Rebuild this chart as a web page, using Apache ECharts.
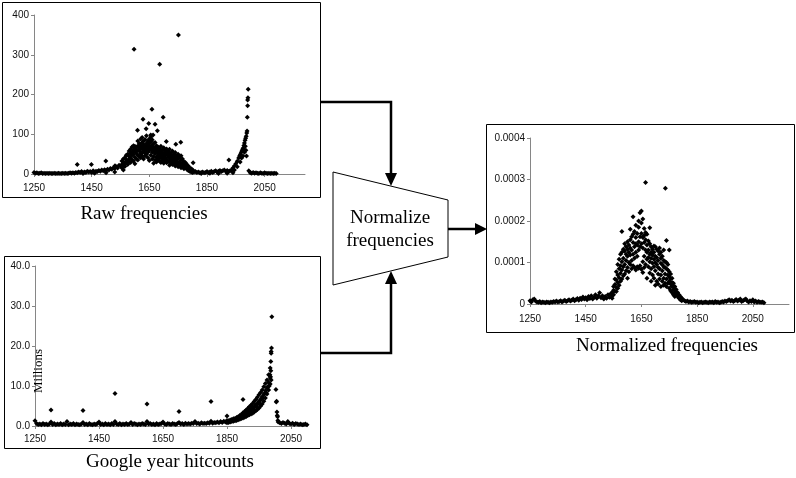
<!DOCTYPE html>
<html>
<head>
<meta charset="utf-8">
<style>
html, body { margin: 0; padding: 0; background: #fff; }
#chart { width: 796px; height: 478px; }
</style>
<script src="https://cdn.jsdelivr.net/npm/echarts@6/dist/echarts.min.js"></script>
</head>
<body>
<div id="chart"></div>
<script>
// shared x tick labels (years)
const yearTicks = [1250, 1450, 1650, 1850, 2050]

// ---- Raw frequencies ----
// baseline 1250..1550, every 5 years
const rawBase = [4, 2, 3, 1, 2, 3, 1, 2, 1, 2,
    1, 2, 1, 1, 2, 1, 1, 2, 1, 1,
    2, 1, 2, 1, 2, 3, 2, 3, 2, 4,
    3, 5, 4, 6, 3, 5, 4, 7, 5, 6,
    4, 8, 5, 7, 6, 9, 7, 10, 8, 11,
    9, 12, 10, 14, 12, 16, 14, 18, 15, 22, 20]
// main hump 1555..1800, every 5 years, several readings per year
const rawPeak = [[24, 33, 15], [30, 22, 38], [27, 41, 19], [36, 28, 47], [33, 50, 24],
    [44, 31, 58, 38], [40, 62, 29, 52], [55, 36, 68, 47], [49, 71, 33, 60], [64, 42, 57, 26, 70],
    [52, 68, 38, 61], [70, 47, 59, 83, 35], [58, 76, 44, 66], [63, 88, 51, 72, 41], [79, 55, 67, 46, 92],
    [61, 74, 38, 83, 57], [69, 52, 87, 63, 45], [77, 58, 66, 96, 49], [64, 83, 41, 72, 55], [70, 88, 59, 34, 78],
    [62, 47, 81, 69, 93], [73, 55, 86, 38, 64], [58, 77, 44, 67, 27], [66, 51, 79, 35, 60], [54, 71, 42, 62, 30],
    [61, 46, 68, 37, 54], [49, 64, 33, 57, 43], [56, 40, 70, 29, 48], [45, 61, 34, 52], [53, 38, 66, 27, 44],
    [47, 59, 32, 41], [55, 36, 49, 63, 28], [42, 57, 31, 48], [50, 34, 62, 22, 44], [39, 53, 28, 45],
    [46, 31, 58, 24, 37], [35, 49, 26, 41], [43, 29, 54, 20], [33, 45, 23, 38], [39, 27, 50, 18],
    [30, 42, 21], [35, 24, 46, 16], [27, 38, 19], [31, 21, 26, 13], [23, 17, 29],
    [19, 12, 24], [15, 9, 20], [12, 7, 16], [10, 5, 13], [8, 4, 11]]
// 1805..1930, every 5 years
const rawLate = [5, 6, 4, 5, 3, 4, 5, 3, 4, 6, 3, 5, 7, 4, 6, 8, 5, 7, 9, 6, 8, 10, 7, 9, 6, 8]
const rawLow = [[1420, 1], [1460, 2], [1500, 3], [1530, 5], [1560, 10], [1830, 1], [1860, 2], [1890, 1], [1920, 2], [1940, 3]]
const rawSpike = [[1935, 10], [1940, 15], [1945, 20], [1950, 26], [1955, 32], [1960, 40], [1963, 45],
    [1966, 50], [1969, 55], [1972, 60], [1975, 65], [1978, 72], [1980, 78], [1982, 85], [1984, 90],
    [1986, 95], [1988, 103], [1989, 108], [1990, 143], [1991, 172], [1991, 186], [1992, 192], [1993, 213],
    [1945, 10], [1955, 18], [1965, 30], [1970, 40], [1975, 45], [1978, 60], [1980, 55], [1983, 70], [1985, 60], [1987, 45]]
// 1995..2090, every 5 years
const rawTail = [8, 3, 2, 4, 2, 3, 2, 1, 3, 2, 1, 3, 2, 1, 2, 1, 2, 1, 2, 1]
const rawOutliers = [[1400, 24], [1449, 24], [1499, 33], [1531, 21], [1597, 314], [1609, 110], [1628, 138],
    [1639, 114], [1648, 127], [1655, 98], [1659, 163], [1663, 98], [1670, 125], [1678, 109], [1686, 276],
    [1698, 143], [1709, 82], [1742, 75], [1751, 350], [1759, 80], [1802, 28], [1926, 35]]

// ---- Google year hitcounts (millions) ----
// 1250..1845, every 5 years
const googleBase = [1.3, 0.6, 0.4, 0.5, 0.3, 0.6, 0.4, 0.5, 0.3, 0.5,
    1.0, 0.4, 0.6, 0.3, 0.5, 0.4, 0.6, 0.3, 0.5, 0.4,
    1.1, 0.3, 0.5, 0.4, 0.6, 0.3, 0.5, 0.4, 0.3, 0.5,
    0.9, 0.4, 0.5, 0.3, 0.6, 0.4, 0.3, 0.5, 0.4, 0.6,
    1.0, 0.4, 0.5, 0.3, 0.6, 0.4, 0.5, 0.3, 0.6, 0.4,
    1.1, 0.5, 0.4, 0.6, 0.3, 0.5, 0.4, 0.6, 0.4, 0.5,
    0.9, 0.4, 0.6, 0.5, 0.3, 0.5, 0.4, 0.6, 0.5, 0.4,
    1.1, 0.5, 0.6, 0.4, 0.5, 0.3, 0.6, 0.4, 0.5, 0.6,
    1.0, 0.5, 0.4, 0.6, 0.5, 0.4, 0.6, 0.5, 0.4, 0.6,
    0.9, 0.5, 0.6, 0.4, 0.7, 0.5, 0.6, 0.5, 0.7, 0.6,
    1.1, 0.6, 0.7, 0.5, 0.8, 0.6, 0.7, 0.6, 0.8, 0.7,
    1.2, 0.7, 0.9, 0.8, 1.0, 0.8, 1.1, 0.9, 1.2, 1.0]
// 1850..1985, every 5 years
const googleUpper = [1.4, 1.3, 1.5, 1.6, 1.8, 1.9, 2.1, 2.3, 2.6, 2.9, 3.3, 3.6, 4.0, 4.4,
    4.8, 5.2, 5.6, 6.1, 6.6, 7.2, 7.8, 8.4, 9.0, 9.8, 10.6, 11.5, 12.8, 14.5]
const googleLower = [0.8, 0.9, 1.0, 1.1, 1.2, 1.3, 1.4, 1.55, 1.7, 1.85, 2.0, 2.2, 2.4, 2.6,
    2.8, 3.0, 3.2, 3.5, 3.8, 4.1, 4.5, 5.0, 5.5, 6.2, 7.0, 8.0, 9.0, 10.5]
// 1880..1985, every 5 years
const googleMid = [1.7, 1.9, 2.2, 2.3, 2.7, 2.9, 3.3, 3.4, 3.9, 4.0, 4.5,
    4.6, 5.3, 5.4, 6.2, 6.5, 7.3, 7.8, 8.8, 9.5, 10.9, 12.0]
// 1902..1982, every 5 years
const googleMid2 = [2.4, 2.9, 3.1, 3.6, 3.6, 4.3, 4.2, 5.0, 4.8, 5.8, 5.7, 6.8, 7.0, 8.1, 8.4, 9.8, 10.0]
const googleSpike = [[1984, 12.8], [1986, 12.3], [1987, 13.8], [1987, 16.1], [1988, 18.2], [1988, 18.6],
    [1988, 11.5], [1989, 19.5], [1990, 27.3],
    [2003, 9.1], [2004, 6.0], [2005, 6.2], [2006, 3.5], [2007, 2.6], [2008, 2.3], [2009, 1.4], [2010, 1.0]]
// 2015..2100, every 5 years
const googleTail = [0.8, 0.6, 0.9, 0.7, 0.5, 1.1, 0.6, 0.5, 0.7, 0.4, 0.6, 0.5, 0.4, 0.5, 0.3, 0.4, 0.5, 0.3]
const googleOutliers = [[1300, 4.0], [1400, 3.9], [1500, 8.1], [1600, 5.5], [1700, 3.6], [1800, 6.1], [1850, 2.5], [1900, 6.6]]

// ---- Normalized frequencies (x 0.0001) ----
// 1250..1540, every 5 years
const normBase = [0.08, 0.05, 0.1, 0.12, 0.07, 0.05, 0.04, 0.06, 0.03, 0.05,
    0.04, 0.03, 0.05, 0.04, 0.03, 0.05, 0.04, 0.06, 0.05, 0.07,
    0.05, 0.06, 0.08, 0.05, 0.07, 0.09, 0.06, 0.08, 0.1, 0.07,
    0.09, 0.12, 0.08, 0.1, 0.13, 0.09, 0.14, 0.11, 0.17, 0.12,
    0.15, 0.1, 0.18, 0.13, 0.2, 0.12, 0.16, 0.22, 0.14, 0.19,
    0.27, 0.15, 0.2, 0.12, 0.18, 0.14, 0.22, 0.16, 0.25]
// 1545..1795, every 5 years
const normPeak = [[0.28, 0.14, 0.2], [0.42, 0.22, 0.33], [0.6, 0.31, 0.47], [0.78, 0.4, 0.58, 0.3], [0.95, 0.52, 0.7, 0.38],
    [1.08, 0.63, 0.85, 0.45], [0.92, 1.2, 0.55, 0.74], [1.25, 0.82, 1.75, 0.6, 1.02], [1.1, 1.32, 0.68, 0.9], [1.28, 0.95, 1.45, 0.72],
    [1.38, 1.05, 0.8, 1.2], [1.15, 1.5, 0.88, 1.32, 0.62], [1.42, 1.0, 1.25, 0.78], [1.55, 1.18, 1.8, 0.95, 1.35], [1.3, 1.62, 1.05, 0.85],
    [1.48, 2.1, 1.2, 1.68, 0.92], [1.38, 1.75, 1.1, 0.88], [1.6, 1.25, 1.9, 1.45, 0.82], [1.42, 1.7, 1.15, 0.9], [1.85, 1.5, 2.0, 1.3, 0.86],
    [2.2, 1.62, 1.38, 0.92], [2.24, 1.45, 1.95, 1.7, 0.84], [1.6, 2.05, 1.35, 1.02, 0.76], [1.82, 1.48, 1.15, 1.65, 0.88], [1.55, 1.3, 1.72, 0.95],
    [1.42, 1.68, 1.08, 1.25, 0.62], [1.3, 1.52, 0.9, 1.12], [1.84, 1.2, 1.45, 0.75, 1.02], [1.38, 1.1, 0.85, 1.25, 0.55], [1.32, 0.98, 1.18, 0.7],
    [1.25, 0.9, 1.4, 0.62, 1.08], [1.15, 1.38, 0.8, 0.45, 1.0], [1.32, 0.95, 1.12, 0.55], [1.05, 1.28, 0.72, 0.48, 0.88], [1.2, 0.85, 1.35, 0.6],
    [0.98, 1.25, 0.7, 0.42, 1.1], [1.15, 0.8, 0.95, 0.55], [0.9, 1.3, 0.62, 1.05, 0.45], [1.02, 0.72, 0.88, 0.5], [0.85, 1.53, 0.6, 1.0, 0.42],
    [0.95, 0.7, 0.5, 0.82], [0.78, 1.3, 0.55, 0.65, 0.38], [0.72, 0.48, 0.6, 0.32], [0.62, 0.42, 0.52, 0.28], [0.5, 0.35, 0.42, 0.22],
    [0.42, 0.28, 0.34, 0.18], [0.35, 0.22, 0.28], [0.28, 0.18, 0.22], [0.22, 0.14, 0.18], [0.18, 0.1, 0.14], [0.14, 0.08, 0.11]]
// 1800..2090, every 5 years
const normTail = [0.1, 0.08, 0.06, 0.07, 0.05, 0.06, 0.04, 0.05, 0.06, 0.04,
    0.05, 0.03, 0.04, 0.05, 0.03, 0.04, 0.05, 0.04, 0.03, 0.05,
    0.04, 0.05, 0.03, 0.06, 0.04, 0.05, 0.03, 0.04, 0.06, 0.05,
    0.07, 0.06, 0.08, 0.1, 0.07, 0.09, 0.06, 0.08, 0.11, 0.07,
    0.09, 0.12, 0.06, 0.08, 0.1, 0.12, 0.07, 0.05, 0.08, 0.06,
    0.1, 0.05, 0.07, 0.04, 0.06, 0.05, 0.04, 0.05, 0.03]
const normOutliers = [[1665, 2.93], [1736, 2.79]]
const normUnit = 0.0001

// helpers
const seq = (start, step, vals) => vals.map((v, i) => [start + i * step, v])
const spread = (start, step, groups) => groups.flatMap((g, i) => g.map(v => [start + i * step, v]))

const rawData = [].concat(seq(1250, 5, rawBase), spread(1555, 5, rawPeak), seq(1805, 5, rawLate),
    rawLow, rawSpike, seq(1995, 5, rawTail), rawOutliers)
const googleData = [].concat(seq(1250, 5, googleBase), seq(1850, 5, googleUpper), seq(1850, 5, googleLower),
    seq(1880, 5, googleMid), seq(1902, 5, googleMid2), googleSpike, seq(2015, 5, googleTail), googleOutliers)
const normData = [].concat(seq(1250, 5, normBase), spread(1545, 5, normPeak), seq(1800, 5, normTail), normOutliers)
    .map(p => [p[0], p[1] * normUnit])

const axisGray = '#868686'
const labelFont = { fontSize: 10, color: '#111', fontFamily: 'Liberation Sans, Arial, sans-serif' }

function xAxisFor(gridIndex, max, margin) {
    return {
        type: 'value', gridIndex, min: 1250, max,
        axisLine: { show: true, lineStyle: { color: axisGray, width: 1 } },
        axisTick: { show: true, length: 3, inside: false, customValues: yearTicks, lineStyle: { color: axisGray } },
        axisLabel: Object.assign({ margin, customValues: yearTicks, formatter: v => String(v) }, labelFont),
        splitLine: { show: false }
    }
}

function yAxisFor(gridIndex, max, interval, formatter) {
    return {
        type: 'value', gridIndex, min: 0, max, interval,
        axisLine: { show: true, lineStyle: { color: axisGray, width: 1 } },
        axisTick: { show: true, length: 3, inside: false, lineStyle: { color: axisGray } },
        axisLabel: Object.assign({ margin: 5, formatter }, labelFont),
        splitLine: { show: false }
    }
}

function scatter(index, data) {
    return {
        type: 'scatter', xAxisIndex: index, yAxisIndex: index, data,
        symbol: 'diamond', symbolSize: 5, silent: true,
        itemStyle: { color: '#000', opacity: 1 }
    }
}

const serif = '"Liberation Serif", "Times New Roman", serif'
function caption(text, x, y, size) {
    return {
        type: 'text', x, y, z: 10,
        style: { text, font: size + 'px ' + serif, fill: '#000', textAlign: 'center', textVerticalAlign: 'middle' }
    }
}
function box(x, y, w, h) {
    return { type: 'rect', shape: { x, y, width: w, height: h }, style: { fill: 'none', stroke: '#000', lineWidth: 1 } }
}
function line(points) {
    return { type: 'polyline', z: 10, shape: { points }, style: { stroke: '#000', lineWidth: 2.5, fill: null } }
}
function head(points) {
    return { type: 'polygon', z: 10, shape: { points }, style: { fill: '#000', stroke: null } }
}

const chart = echarts.init(document.getElementById('chart'))

const option = {
    animation: false,
    backgroundColor: '#fff',
    grid: [
        { left: 34, top: 15, width: 271, height: 159 },
        { left: 35, top: 266, width: 272, height: 160 },
        { left: 530, top: 138, width: 259, height: 166 }
    ],
    xAxis: [
        xAxisFor(0, 2190, 9),
        xAxisFor(1, 2100, 8),
        xAxisFor(2, 2180, 10)
    ],
    yAxis: [
        yAxisFor(0, 400, 100),
        yAxisFor(1, 40, 10, v => v.toFixed(1)),
        yAxisFor(2, 0.0004, 0.0001)
    ],
    series: [
        scatter(0, rawData),
        scatter(1, googleData),
        scatter(2, normData)
    ],
    graphic: [
        box(2.5, 2.5, 318, 195),
        box(4.5, 256.5, 316, 192),
        box(486.5, 124.5, 308, 208),
        {
            type: 'polygon', z: 5,
            shape: { points: [[333, 172], [448, 200], [448, 257], [333, 285]] },
            style: { fill: '#fff', stroke: '#000', lineWidth: 1 }
        },
        line([[320.5, 102], [391, 102], [391, 175]]),
        head([[385, 173], [397, 173], [391, 186]]),
        line([[320.5, 353], [391, 353], [391, 283]]),
        head([[385, 284], [397, 284], [391, 271]]),
        line([[448, 229], [476, 229]]),
        head([[475, 223], [475, 235], [487, 229]]),
        caption('Normalize', 390, 218, 19),
        caption('frequencies', 390, 241, 19),
        caption('Raw frequencies', 144, 214, 19),
        caption('Google year hitcounts', 170, 462, 19),
        caption('Normalized frequencies', 667, 346, 19),
        {
            type: 'text', x: 39, y: 371, rotation: Math.PI / 2, z: 10,
            style: { text: 'Millions', font: '13px ' + serif, fill: '#000', textAlign: 'center', textVerticalAlign: 'middle' }
        }
    ]
}

chart.setOption(option)
</script>
</body>
</html>
